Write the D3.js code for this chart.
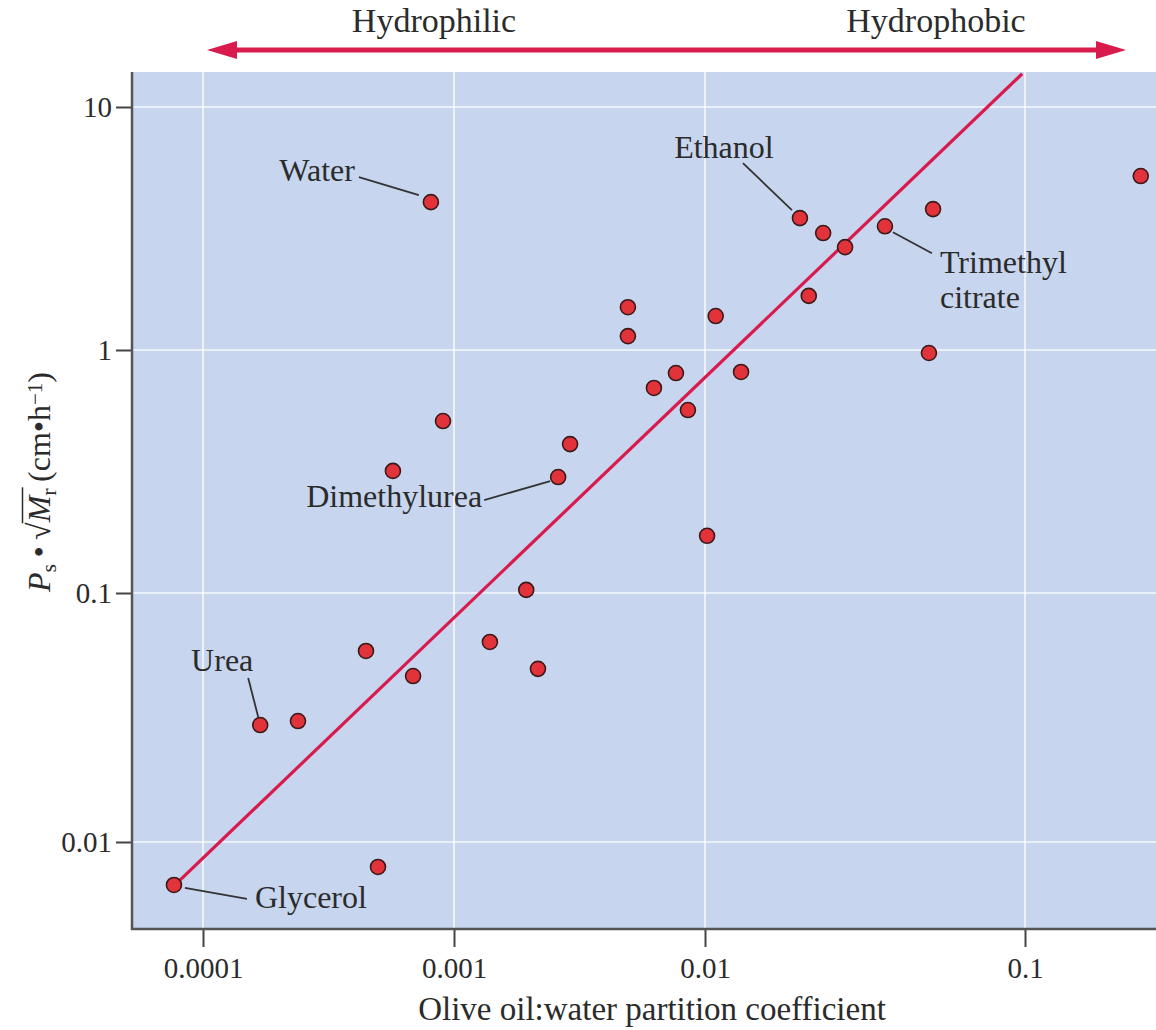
<!DOCTYPE html>
<html>
<head>
<meta charset="utf-8">
<script src="https://cdn.jsdelivr.net/npm/d3@7"></script>
<style>
  body { margin: 0; background: #fff; }
  text { font-family: "Liberation Serif", "DejaVu Serif", serif; fill: #2b2b2b; }
</style>
</head>
<body>
<script>
// partition coefficient (x) and Ps*sqrt(Mr) (y)
const partition = [7.66e-5, 4.98e-4, 1.69e-4, 2.39e-4, 4.46e-4, 6.87e-4, 1.39e-3, 1.94e-3, 2.16e-3,
  5.71e-4, 9.04e-4, 8.09e-4, 2.60e-3, 2.90e-3, 4.93e-3, 4.93e-3, 6.26e-3, 7.66e-3, 8.55e-3,
  0.0108, 0.01296, 0.01015, 0.0198, 0.0234, 0.0274, 0.0211, 0.0365, 0.0516, 0.0501, 0.230];
const permeability = [0.00672, 0.00794, 0.0295, 0.0306, 0.0585, 0.0464, 0.0636, 0.103, 0.0496,
  0.318, 0.510, 4.06, 0.300, 0.410, 1.50, 1.14, 0.698, 0.804, 0.566,
  1.38, 0.812, 0.172, 3.49, 3.03, 2.65, 1.67, 3.23, 3.80, 0.972, 5.20];

// best-fit line ends
const fitX = [7.7e-5, 0.098];
const fitY = [0.0067, 13.7];

const xTicks = [1e-4, 1e-3, 1e-2, 1e-1];
const xTickLabels = ["0.0001", "0.001", "0.01", "0.1"];
const yTicks = [0.01, 0.1, 1, 10];
const yTickLabels = ["0.01", "0.1", "1", "10"];

// labelled compounds: index into the arrays above
const labels = [
  { i: 11, name: ["Water"] },
  { i: 22, name: ["Ethanol"] },
  { i: 26, name: ["Trimethyl", "citrate"] },
  { i: 12, name: ["Dimethylurea"] },
  { i: 2, name: ["Urea"] },
  { i: 0, name: ["Glycerol"] }
];
// label placement relative to the point (text anchor, leader line start/end)
const labelLayout = {
  "Water":       { tx: -76, ty: -21, anchor: "end", l: [-72, -25, -12, -7] },
  "Ethanol":     { tx: -76, ty: -60, anchor: "middle", l: [-57, -55, -8, -8] },
  "Trimethyl":   { tx: 55, ty: 47, anchor: "start", l: [8, 6, 47, 27] },
  "Dimethylurea":{ tx: -76, ty: 30, anchor: "end", l: [-74, 23, -8, 4] },
  "Urea":        { tx: -38, ty: -54, anchor: "middle", l: [-12, -47, -2, -8] },
  "Glycerol":    { tx: 81, ty: 23, anchor: "start", l: [11, 3, 73, 14] }
};

const W = 1156, H = 1030;
const plot = { left: 132, right: 1156, top: 72, bottom: 929 };
const red = "#d81b4c";

const x = d3.scaleLog().domain(xTicks).range([203, 454, 705, 1025]);
const y = d3.scaleLog().domain(yTicks).range([842, 593, 350, 107]);

const svg = d3.select("body").append("svg")
  .attr("width", W).attr("height", H);

// background
svg.append("rect")
  .attr("x", plot.left).attr("y", plot.top)
  .attr("width", plot.right - plot.left).attr("height", plot.bottom - plot.top)
  .attr("fill", "#c7d5ee");

// grid
svg.append("g").selectAll("line").data(xTicks).join("line")
  .attr("x1", d => x(d)).attr("x2", d => x(d))
  .attr("y1", plot.top).attr("y2", plot.bottom)
  .attr("stroke", "#fff").attr("stroke-width", 1.6).attr("opacity", 0.85);
svg.append("g").selectAll("line").data(yTicks).join("line")
  .attr("x1", plot.left).attr("x2", plot.right)
  .attr("y1", d => y(d)).attr("y2", d => y(d))
  .attr("stroke", "#fff").attr("stroke-width", 1.6).attr("opacity", 0.85);

// axes
const xAxis = d3.axisBottom(x).tickValues(xTicks)
  .tickFormat((d, i) => xTickLabels[i]).tickSize(18).tickSizeOuter(0);
const gx = svg.append("g").attr("transform", `translate(0,${plot.bottom})`).call(xAxis);
gx.select(".domain").remove();
gx.selectAll(".tick line").attr("stroke", "#444").attr("stroke-width", 2);
gx.selectAll(".tick text").attr("y", 49).attr("dy", 0)
  .style("font-size", "29px").style("font-family", "Liberation Serif").attr("fill", "#2b2b2b");

const yAxis = d3.axisLeft(y).tickValues(yTicks)
  .tickFormat((d, i) => yTickLabels[i]).tickSize(16).tickSizeOuter(0);
const gy = svg.append("g").attr("transform", `translate(${plot.left},0)`).call(yAxis);
gy.select(".domain").remove();
gy.selectAll(".tick line").attr("stroke", "#444").attr("stroke-width", 2);
gy.selectAll(".tick text").attr("x", -20).attr("dy", "0.34em")
  .style("font-size", "29px").style("font-family", "Liberation Serif").attr("fill", "#2b2b2b");

// plot frame (left and bottom)
svg.append("path")
  .attr("d", `M${plot.left},${plot.top}V${plot.bottom}H${plot.right}`)
  .attr("fill", "none").attr("stroke", "#555").attr("stroke-width", 2.5);

// fit line
svg.append("line")
  .attr("x1", x(fitX[0])).attr("y1", y(fitY[0]))
  .attr("x2", x(fitX[1])).attr("y2", y(fitY[1]))
  .attr("stroke", red).attr("stroke-width", 3.2);

// leader lines and labels
const pts = partition.map((p, i) => ({ x: p, y: permeability[i] }));
labels.forEach(lb => {
  const p = pts[lb.i];
  const px = x(p.x), py = y(p.y);
  const L = labelLayout[lb.name[0]];
  svg.append("line")
    .attr("x1", px + L.l[0]).attr("y1", py + L.l[1])
    .attr("x2", px + L.l[2]).attr("y2", py + L.l[3])
    .attr("stroke", "#333").attr("stroke-width", 1.8);
  const t = svg.append("text")
    .attr("x", px + L.tx).attr("y", py + L.ty)
    .attr("text-anchor", L.anchor)
    .style("font-size", "32px");
  lb.name.forEach((s, k) => {
    t.append("tspan").attr("x", px + L.tx).attr("dy", k === 0 ? 0 : 35).text(s);
  });
});

// points
svg.append("g").selectAll("circle").data(pts).join("circle")
  .attr("cx", d => x(d.x)).attr("cy", d => y(d.y))
  .attr("r", 7.5)
  .attr("fill", "#e2323a").attr("stroke", "#3b1a1a").attr("stroke-width", 1.6);

// hydrophilic / hydrophobic arrow
const arrowY = 50, ax1 = 207, ax2 = 1126, head = 30, hw = 9;
svg.append("line")
  .attr("x1", ax1 + head - 4).attr("x2", ax2 - head + 4)
  .attr("y1", arrowY).attr("y2", arrowY)
  .attr("stroke", red).attr("stroke-width", 5);
svg.append("path")
  .attr("d", `M${ax1},${arrowY}L${ax1 + head},${arrowY - hw}L${ax1 + head},${arrowY + hw}Z`)
  .attr("fill", red);
svg.append("path")
  .attr("d", `M${ax2},${arrowY}L${ax2 - head},${arrowY - hw}L${ax2 - head},${arrowY + hw}Z`)
  .attr("fill", red);
svg.append("text").attr("x", 434).attr("y", 32).attr("text-anchor", "middle")
  .style("font-size", "34px").text("Hydrophilic");
svg.append("text").attr("x", 936).attr("y", 32).attr("text-anchor", "middle")
  .style("font-size", "34px").text("Hydrophobic");

// x title
svg.append("text").attr("x", 652).attr("y", 1020).attr("text-anchor", "middle")
  .style("font-size", "33px").text("Olive oil:water partition coefficient");

// y title
const yg = svg.append("g").attr("transform", "translate(50,482) rotate(-90)");
const yt = yg.append("text")
  .attr("text-anchor", "middle")
  .style("font-size", "32px");
yt.append("tspan").style("font-style", "italic").text("P");
yt.append("tspan").attr("baseline-shift", "-25%").style("font-size", "22px").text("s");
yt.append("tspan").text("\u2009•\u2009√");
yt.append("tspan").style("font-style", "italic").text("M");
yt.append("tspan").attr("baseline-shift", "-25%").style("font-size", "22px").text("r");
yt.append("tspan").text("\u2009(cm•h");
yt.append("tspan").attr("baseline-shift", "40%").style("font-size", "21px").text("\u22121");
yt.append("tspan").text(")");

// overline of the square root, from the radical to the end of "r"
const node = yt.node();
const full = node.textContent;
const iRad = full.indexOf("√");
const radBox = node.getExtentOfChar(iRad);
const endR = node.getEndPositionOfChar(iRad + 2);
yg.append("line")
  .attr("x1", radBox.x + radBox.width - 1).attr("x2", endR.x + 1)
  .attr("y1", radBox.y + 1.5).attr("y2", radBox.y + 1.5)
  .attr("stroke", "#2b2b2b").attr("stroke-width", 1.5);
</script>
</body>
</html>
